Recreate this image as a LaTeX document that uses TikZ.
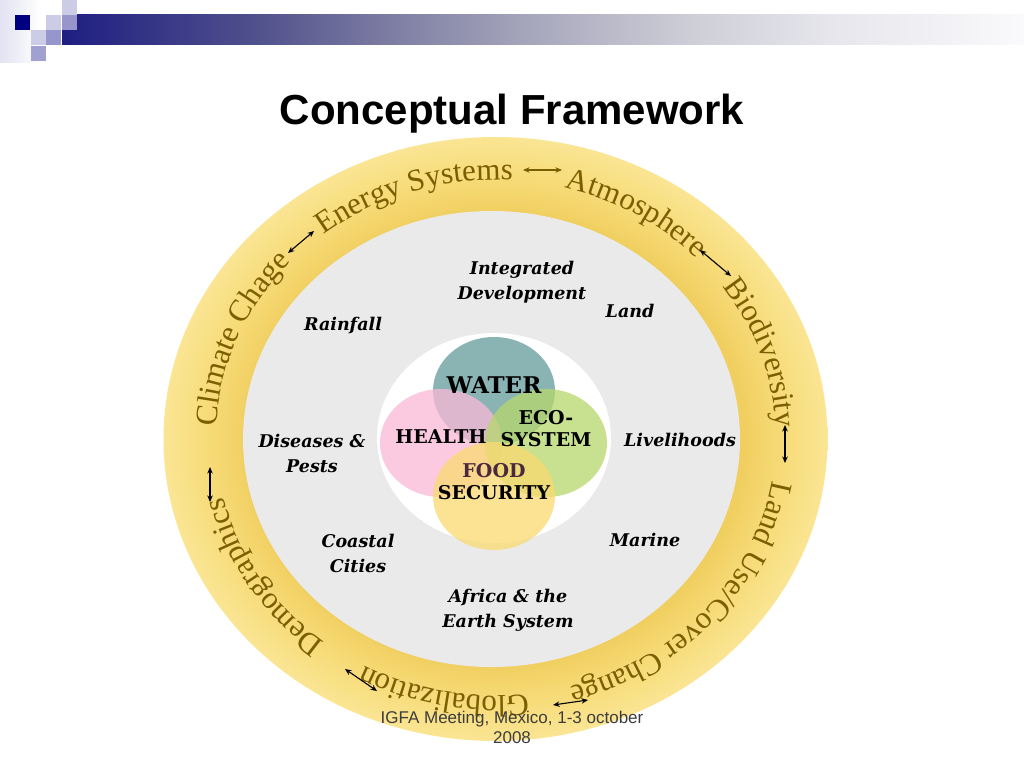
\documentclass[tikz,border=0pt]{standalone}
\usepackage{fontspec}
\usetikzlibrary{decorations.text,arrows.meta}
\newfontfamily\ringfont{Liberation Serif}
\newfontfamily\labfont{DejaVu Serif}
\newfontfamily\sansfont{Liberation Sans}
\definecolor{ringc}{RGB}{122,94,0}
\definecolor{ringA}{RGB}{240,206,95}
\definecolor{ringB}{RGB}{243,211,104}
\definecolor{ringC}{RGB}{247,220,122}
\definecolor{ringD}{RGB}{250,229,148}
\definecolor{greyc}{RGB}{234,234,234}
\definecolor{waterc}{RGB}{100,155,155}
\definecolor{healthc}{RGB}{250,185,215}
\definecolor{ecoc}{RGB}{182,216,108}
\definecolor{foodc}{RGB}{250,218,112}
\definecolor{foodt}{RGB}{74,40,62}
\definecolor{navyc}{RGB}{0,0,128}
\definecolor{sqlight}{RGB}{204,204,230}
\definecolor{sqmid}{RGB}{150,150,204}
\definecolor{lavfaint}{RGB}{226,226,242}
\definecolor{barA}{RGB}{30,30,130}
\definecolor{barB}{RGB}{80,80,140}
\definecolor{barC}{RGB}{128,128,165}
\definecolor{barD}{RGB}{170,170,190}
\definecolor{barE}{RGB}{205,205,215}
\definecolor{barF}{RGB}{230,230,236}
\definecolor{barG}{RGB}{250,250,252}
\definecolor{footc}{RGB}{60,60,60}
\pgfdeclarehorizontalshading{barshade}{100bp}{color(0bp)=(barA); color(25bp)=(barA); color(35bp)=(barB); color(42.5bp)=(barC); color(50bp)=(barD); color(57.5bp)=(barE); color(65bp)=(barF); color(75bp)=(barG); color(100bp)=(barG)}
\pgfdeclareradialshading{ringshade}{\pgfpoint{0bp}{0bp}}{color(0bp)=(ringA); color(18.7bp)=(ringA); color(19.6bp)=(ringB); color(22bp)=(ringC); color(25bp)=(ringD); color(50bp)=(ringD)}
\newcommand\rtf{\ringfont\fontsize{31}{37}\selectfont}
\tikzset{
  ringtext/.style={decorate, decoration={text along path, text={|\rtf|#1}, text align=center, text color=ringc}},
  dar/.style={{Stealth[length=6.5pt,width=5.5pt]}-{Stealth[length=6.5pt,width=5.5pt]}, line width=1.1pt, draw=black},
  lab/.style={font=\labfont\bfseries\itshape\fontsize{17.5}{25}\selectfont, align=center, inner sep=0pt},
  cl/.style={font=\labfont\bfseries\fontsize{19}{22}\selectfont, align=center, inner sep=0pt},
  venn/.style={fill opacity=.75}
}
\newcommand\ringlabel[3]{\path[ringtext={#1}] (496,-438) ++({-(#2)+(#3)}:280 and 258) arc[start angle={-(#2)+(#3)}, end angle={-(#2)-(#3)}, x radius=280, y radius=258];}
\begin{document}
\begin{tikzpicture}[x=1pt,y=1pt]
\useasboundingbox (0,0) rectangle (1024,-768);
\fill[white] (0,0) rectangle (1024,-768);
% header
\shade[left color=lavfaint, right color=white] (0,0) rectangle (40,-62);
\shade[shading=barshade] (62,-15) rectangle (1024,-45);
\fill[sqlight] (62,0) rectangle (77,-15);
\fill[navyc] (15,-15) rectangle (30,-30);
\fill[sqlight] (46,-15) rectangle (61,-30);
\fill[sqmid] (62,-15) rectangle (77,-30);
\fill[sqlight] (31,-30) rectangle (46,-45);
\fill[sqmid] (46,-30) rectangle (61,-45);
\fill[sqmid!90!white] (31,-46) rectangle (46,-61);
% title
\node[font=\sansfont\bfseries\fontsize{42}{50}\selectfont, anchor=base] (title) at (512,-124) {Conceptual Framework};
% rings
\shade[shading=ringshade] (495.5,-439) ellipse [x radius=332, y radius=302];
\fill[greyc] (491.5,-439) ellipse [x radius=248.5, y radius=228];
\fill[white] (494,-438) ellipse [x radius=117, y radius=105];
% venn
\fill[waterc, venn] (494,-391) ellipse [x radius=61, y radius=54];
\fill[healthc, venn] (441,-443) ellipse [x radius=61, y radius=54];
\fill[ecoc, venn] (546,-443) ellipse [x radius=61, y radius=54];
\fill[foodc, venn] (494,-496) ellipse [x radius=61, y radius=54];
\node[cl, font=\labfont\bfseries\fontsize{23}{26}\selectfont] (water) at (494,-385) {WATER};
\node[cl] (health) at (441,-437) {HEALTH};
\node[cl] (eco) at (546,-429) {ECO-\\SYSTEM};
\node[cl] (food) at (494,-482) {\textcolor{foodt}{FOOD}\\SECURITY};
% middle ring labels
\node[lab] (integ) at (522,-282) {Integrated\\Development};
\node[lab] (land) at (630,-311) {Land};
\node[lab] (rain) at (343,-326) {Rainfall};
\node[lab] (dis) at (312,-453) {Diseases \&\\Pests};
\node[lab] (live) at (680,-440) {Livelihoods};
\node[lab] (coast) at (358,-553) {Coastal\\Cities};
\node[lab] (marine) at (645,-540) {Marine};
\node[lab] (africa) at (508,-610) {Africa \& the\\Earth System};
% outer ring text
\ringlabel{Climate Chage}{202}{50}
\ringlabel{Energy Systems}{252.1}{50}
\ringlabel{Atmosphere}{300.9}{45}
\ringlabel{Biodiversity}{341.5}{45}
\ringlabel{Land Use/Cover Change}{41}{65}
\ringlabel{Globalization}{101.1}{45}
\ringlabel{Demographics}{148}{45}
% arrows
\coordinate (a1s) at (288,-253); \coordinate (a1e) at (314,-231);
\coordinate (a2s) at (523,-170); \coordinate (a2e) at (562,-170);
\coordinate (a3s) at (700,-250); \coordinate (a3e) at (731,-276);
\coordinate (a4s) at (785,-425); \coordinate (a4e) at (785,-463);
\coordinate (a5s) at (553,-705); \coordinate (a5e) at (588,-700);
\coordinate (a6s) at (345,-669); \coordinate (a6e) at (377,-691);
\coordinate (a7s) at (210,-467); \coordinate (a7e) at (210,-502);
\draw[dar] (a1s) -- (a1e);
\draw[dar, draw=ringc] (a2s) -- (a2e);
\draw[dar] (a3s) -- (a3e);
\draw[dar] (a4s) -- (a4e);
\draw[dar] (a5s) -- (a5e);
\draw[dar] (a6s) -- (a6e);
\draw[dar] (a7s) -- (a7e);
% footer
\node[font=\sansfont\fontsize{17}{20}\selectfont, text=footc, align=center, anchor=base] (foot) at (512,-743) {IGFA Meeting, Mexico, 1-3 october\\2008};
\end{tikzpicture}
\end{document}
